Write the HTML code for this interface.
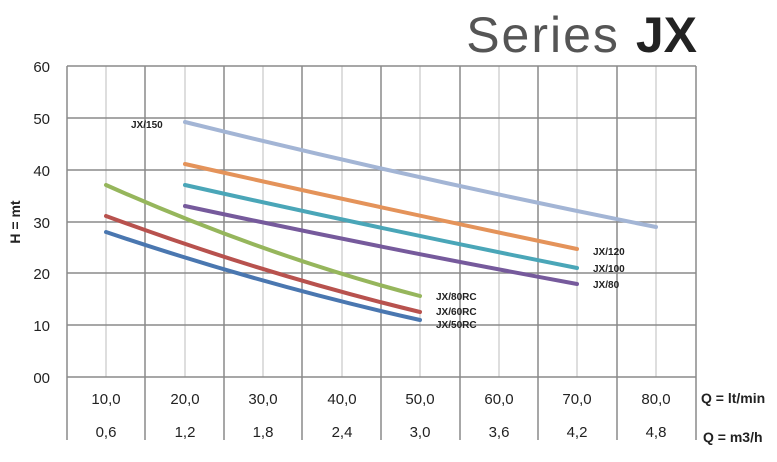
<!DOCTYPE html>
<html><head><style>
body{margin:0;background:#fff;}
svg{display:block;font-family:"Liberation Sans",sans-serif;}
</style></head><body>
<svg width="777" height="462" viewBox="0 0 777 462" xmlns="http://www.w3.org/2000/svg">
<text x="697" y="52" text-anchor="end" font-size="50" fill="#333"><tspan fill="#555" letter-spacing="2">Series </tspan><tspan font-weight="bold" fill="#222">JX</tspan></text>
<g stroke="#c8c8c8" stroke-width="1.2">
<line x1="106" y1="66" x2="106" y2="377"/><line x1="185" y1="66" x2="185" y2="377"/><line x1="263" y1="66" x2="263" y2="377"/><line x1="342" y1="66" x2="342" y2="377"/><line x1="420" y1="66" x2="420" y2="377"/><line x1="499" y1="66" x2="499" y2="377"/><line x1="577" y1="66" x2="577" y2="377"/><line x1="656" y1="66" x2="656" y2="377"/>
</g>
<g stroke="#8a8a8a" stroke-width="1.5">
<line x1="67" y1="66" x2="696" y2="66"/><line x1="67" y1="118" x2="696" y2="118"/><line x1="67" y1="170" x2="696" y2="170"/><line x1="67" y1="222" x2="696" y2="222"/><line x1="67" y1="273" x2="696" y2="273"/><line x1="67" y1="325" x2="696" y2="325"/><line x1="67" y1="377" x2="696" y2="377"/>
<line x1="67" y1="66" x2="67" y2="440"/><line x1="145" y1="66" x2="145" y2="440"/><line x1="224" y1="66" x2="224" y2="440"/><line x1="302" y1="66" x2="302" y2="440"/><line x1="381" y1="66" x2="381" y2="440"/><line x1="460" y1="66" x2="460" y2="440"/><line x1="538" y1="66" x2="538" y2="440"/><line x1="617" y1="66" x2="617" y2="440"/><line x1="696" y1="66" x2="696" y2="440"/>
</g>
<g font-size="15" fill="#222" text-anchor="end">
<text x="50" y="72">60</text><text x="50" y="124">50</text><text x="50" y="176">40</text><text x="50" y="228">30</text><text x="50" y="279">20</text><text x="50" y="331">10</text><text x="50" y="383">00</text>
</g>
<text transform="translate(20,222) rotate(-90)" text-anchor="middle" font-size="14" font-weight="bold" fill="#222">H = mt</text>
<g font-size="15" fill="#222" text-anchor="middle">
<text x="106" y="404">10,0</text><text x="185" y="404">20,0</text><text x="263" y="404">30,0</text><text x="342" y="404">40,0</text><text x="420" y="404">50,0</text><text x="499" y="404">60,0</text><text x="577" y="404">70,0</text><text x="656" y="404">80,0</text>
<text x="106" y="437">0,6</text><text x="185" y="437">1,2</text><text x="263" y="437">1,8</text><text x="342" y="437">2,4</text><text x="420" y="437">3,0</text><text x="499" y="437">3,6</text><text x="577" y="437">4,2</text><text x="656" y="437">4,8</text>
</g>
<g font-size="14" font-weight="bold" fill="#222">
<text x="701" y="403">Q = lt/min</text><text x="703" y="442">Q = m3/h</text>
</g>
<g fill="none" stroke-width="4" stroke-linecap="round">
<path d="M185,122 Q420,180 656,227" stroke="#a3b5d5"/>
<path d="M185,164 Q381,208 577,249" stroke="#e4935a"/>
<path d="M185,185 Q381,229 577,268" stroke="#4aa6b8"/>
<path d="M185,206 Q381,248 577,284" stroke="#765a9c"/>
<path d="M106,185 Q263,255 420,296" stroke="#96b65c"/>
<path d="M106,216 Q263,274 420,312" stroke="#b8524e"/>
<path d="M106,232 Q263,285 420,320" stroke="#4a77b0"/>
</g>
<g font-size="10" font-weight="bold" fill="#222">
<text x="131" y="128">JX/150</text>
<text x="593" y="255">JX/120</text><text x="593" y="272">JX/100</text><text x="593" y="288">JX/80</text>
<text x="436" y="300">JX/80RC</text><text x="436" y="315">JX/60RC</text><text x="436" y="328">JX/50RC</text>
</g>
</svg>
</body></html>
